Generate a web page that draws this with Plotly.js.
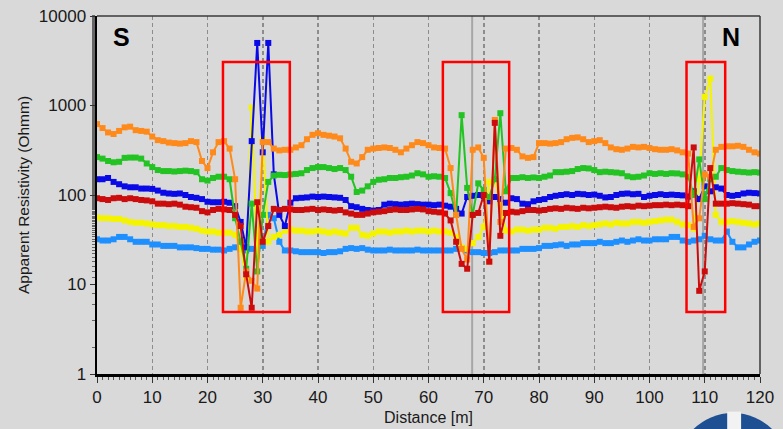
<!DOCTYPE html>
<html>
<head>
<meta charset="utf-8">
<script src="https://cdn.plot.ly/plotly-3.0.1.min.js"></script>
<style>
  html, body { margin: 0; padding: 0; background: #d9d9d9; }
  #chart { width: 783px; height: 429px; }
</style>
</head>
<body>
<div id="chart"></div>
<script>
// Distance along profile [m]
const distance = [0,1,2,3,4,5,6,7,8,9,10,11,12,13,14,15,16,17,18,19,20,21,22,23,24,25,26,27,28,29,30,31,32,33,34,35,36,37,38,39,40,41,42,43,44,45,46,47,48,49,50,51,52,53,54,55,56,57,58,59,60,61,62,63,64,65,66,67,68,69,70,71,72,73,74,75,76,77,78,79,80,81,82,83,84,85,86,87,88,89,90,91,92,93,94,95,96,97,98,99,100,101,102,103,104,105,106,107,108,109,110,111,112,113,114,115,116,117,118,119,120];

// Apparent resistivity [Ohmm] per series
const orangeSeries = [620,560,500,480,520,570,580,530,520,510,
  450,410,400,385,380,375,380,400,390,240,
  200,300,390,400,330,150,5.5,14,11,9,
  390,390,330,315,320,320,340,360,420,470,
  490,470,460,450,430,330,235,225,265,320,
  330,335,340,335,320,300,330,360,390,380,
  360,340,335,330,200,60,25,19,320,340,
  260,18,690,50,330,335,320,270,260,265,
  380,380,375,380,390,420,435,440,420,390,
  400,410,380,340,325,320,330,345,340,345,
  335,325,320,320,325,315,300,290,44,55,
  170,160,320,345,350,350,355,345,320,300,
  290];

const greenSeries = [265,255,240,232,235,260,262,262,255,225,
  205,190,185,185,183,185,187,185,180,150,
  145,155,160,160,150,55,30,15,80,14,
  60,140,165,168,167,170,172,175,190,200,
  205,205,200,195,200,190,160,108,112,125,
  140,148,150,155,155,158,160,165,175,170,
  160,162,160,155,105,60,780,120,60,135,
  114,95,150,820,110,155,155,158,155,157,
  155,160,165,180,180,182,185,195,200,198,
  190,180,182,180,178,175,162,158,160,165,
  175,172,175,172,175,174,170,160,100,250,
  90,150,160,200,190,185,182,180,178,180,
  178];

const blueSeries = [150,150,155,140,132,125,122,122,118,118,
  117,112,106,104,103,104,100,95,93,90,
  84,83,83,84,82,75,50,26,400,5000,
  300,5000,170,60,45,82,92,93,94,96,
  95,96,95,94,93,88,75,73,70,68,
  67,68,78,80,79,78,79,80,79,78,
  78,77,78,76,74,70,62,95,98,100,
  97,85,95,90,82,92,90,80,79,85,
  88,90,95,98,100,102,100,103,102,100,
  101,98,94,95,100,103,104,102,103,95,
  98,100,102,100,101,100,99,96,110,90,
  125,110,122,118,100,98,100,104,106,105,
  104];

const redSeries = [92,90,88,92,93,90,92,90,88,87,
  85,80,80,79,80,78,74,73,72,66,
  64,68,70,69,68,60,45,13,5.5,83,
  30,45,70,68,70,69,68,68,69,70,
  68,69,68,67,68,64,62,60,60,62,
  64,65,66,68,69,68,68,69,70,69,
  66,65,64,62,52,30,17,15,60,63,
  100,18,640,35,63,65,64,66,68,68,
  67,68,70,71,70,72,71,70,72,71,
  72,73,74,73,72,74,75,74,76,75,
  76,77,77,78,77,78,77,75,340,8.5,
  14,200,80,80,80,81,80,79,78,75,
  75];

const yellowSeries = [56,55,55,54,54,52,50,49,49,48,
  47,46,46,45,45,44,44,43,42,40,
  39,39,38,38,38,36,25,12,950,20,
  420,30,34,36,40,41,40,40,39,39,
  40,39,38,39,38,37,43,43,36,35,
  37,39,39,38,39,39,40,39,40,40,
  39,40,39,39,38,34,26,25,29,34,
  44,140,150,80,40,39,41,41,40,41,
  41,43,43,42,44,44,45,44,46,45,
  46,47,48,47,49,48,48,50,50,49,
  50,51,52,53,53,50,47,46,42,150,
  1250,2000,60,50,50,51,50,49,48,47,
  48];

const lightBlueSeries = [32,31,31,32,34,34,32,30,30,30,
  28,28,27,27,27,26,26,26,25.5,25,
  25,24.5,24.5,24,25,26,25,24,25,25,
  27,60,55,30,24,24,23.5,23,23,23,
  23,22.5,23,23,23.5,25,25.5,25,25.5,24.5,
  24,24,24,24.5,24,24,24,24,24.5,24,
  24,24,24,24,24,25,25.5,24,23,23,
  22.5,22.5,23,24,24,24,24,25,25,25,
  25.5,27,27,27.5,28,27,28,28,29,29,
  29,30,29,29,30,31,30,31,32,31,
  31,32,32,32,34,34,31,30,31,32,
  35,32,31,31,39,30,26,26,28,30,
  31];

// Anomaly boxes [x0, x1, y0, y1] in data units
const anomalyBoxes = [[22.8, 34.9, 4.93, 3060], [62.6, 74.6, 4.93, 3060], [106.7, 113.7, 4.93, 3060]];
// Solid reference lines (distance)
const referenceLines = [67.9, 109.7];
const yTicks = [1, 10, 100, 1000, 10000];
const yTickText = ['1', '10', '100', '1000', '10000'];
const xTicks = [0,10,20,30,40,50,60,70,80,90,100,110,120];

const seriesDefs = [
  {y: lightBlueSeries, color: '#1e8fff'},
  {y: yellowSeries, color: '#f4f400'},
  {y: blueSeries, color: '#0a0ae6'},
  {y: greenSeries, color: '#22c322'},
  {y: orangeSeries, color: '#ff8a1c'},
  {y: redSeries, color: '#cc0c0c'}
];

const traces = seriesDefs.map(s => ({
  type: 'scatter', mode: 'lines+markers',
  x: distance, y: s.y,
  line: {color: s.color, width: 2},
  marker: {color: s.color, size: 6, symbol: 'square'},
  hoverinfo: 'skip', showlegend: false
}));

const shapes = [];
referenceLines.forEach(xv => shapes.push({
  type: 'line', xref: 'x', yref: 'paper', x0: xv, x1: xv, y0: 0, y1: 1,
  line: {color: '#a6a6a6', width: 2}, layer: 'between'
}));
anomalyBoxes.forEach(b => shapes.push({
  type: 'rect', xref: 'x', yref: 'y', x0: b[0], x1: b[1], y0: b[2], y1: b[3],
  line: {color: '#ff0000', width: 2.5}, fillcolor: 'rgba(0,0,0,0)', layer: 'above'
}));
// thin top/right frame
shapes.push({type: 'line', xref: 'paper', yref: 'paper', x0: 0, x1: 1, y0: 1, y1: 1, line: {color: '#3a3a3a', width: 1.5}});
shapes.push({type: 'line', xref: 'paper', yref: 'paper', x0: 1, x1: 1, y0: 0, y1: 1, line: {color: '#3a3a3a', width: 1.5}});
// logo fragment in the corner
shapes.push({type: 'circle', xref: 'paper', yref: 'paper', x0: 0.873, x1: 1.045, y0: -0.433, y1: -0.109,
  line: {width: 0}, fillcolor: '#1e4f92', layer: 'above'});
shapes.push({type: 'rect', xref: 'paper', yref: 'paper', x0: 0.9505, x1: 0.9715, y0: -0.16, y1: -0.105,
  line: {width: 0}, fillcolor: '#f2f2f2', layer: 'above'});

const layout = {
  width: 783, height: 429,
  margin: {l: 97, r: 23, t: 16, b: 55},
  paper_bgcolor: '#d9d9d9', plot_bgcolor: '#d9d9d9',
  font: {family: 'Liberation Sans, Arial, sans-serif', color: '#1a1a1a'},
  showlegend: false,
  hovermode: false,
  xaxis: {
    range: [0, 120], tickvals: xTicks, ticks: 'outside', ticklen: 6, tickwidth: 1, tickcolor: '#333',
    tickfont: {size: 17, color: '#1a1a1a'},
    showline: true, linecolor: '#000', linewidth: 2.5,
    showgrid: true, gridcolor: '#8c8c8c', gridwidth: 1.5, griddash: '4px,3px',
    zeroline: false,
    minor: {dtick: 1, ticks: 'outside', ticklen: 3, tickcolor: '#555', showgrid: false},
    title: {text: 'Distance [m]', font: {size: 16, color: '#1a1a1a'}, standoff: 6}
  },
  yaxis: {
    type: 'log', range: [0, 4], tickvals: yTicks, ticktext: yTickText,
    ticks: 'outside', ticklen: 5, tickwidth: 1, tickcolor: '#333',
    tickfont: {size: 17, color: '#1a1a1a'},
    showline: true, linecolor: '#000', linewidth: 2.5,
    showgrid: false, zeroline: false,
    minor: {ticks: 'outside', ticklen: 3, tickcolor: '#666', showgrid: false},
    title: {text: 'Apparent Resistivity (Ohmm)', font: {size: 15.5, color: '#1a1a1a'}, standoff: 6}
  },
  annotations: [
    {xref: 'paper', yref: 'paper', x: 0.0377, y: 0.941, xanchor: 'center', yanchor: 'middle',
     text: '<b>S</b>', showarrow: false,
     font: {size: 25, color: '#000', family: 'Liberation Sans, Arial, sans-serif'}},
    {xref: 'paper', yref: 'paper', x: 0.956, y: 0.941, xanchor: 'center', yanchor: 'middle',
     text: '<b>N</b>', showarrow: false,
     font: {size: 25, color: '#000', family: 'Liberation Sans, Arial, sans-serif'}}
  ],
  shapes: shapes
};

Plotly.newPlot('chart', traces, layout, {staticPlot: true, displayModeBar: false});
</script>
</body>
</html>
